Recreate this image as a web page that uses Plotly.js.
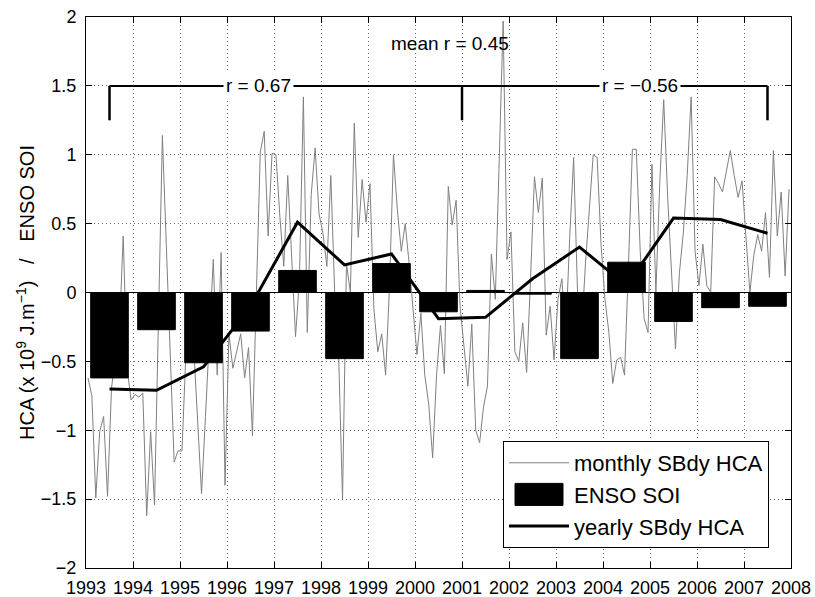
<!DOCTYPE html>
<html>
<head>
<meta charset="utf-8">
<script src="https://cdn.plot.ly/plotly-3.0.1.min.js"></script>
<style>html,body{margin:0;padding:0;background:#fff;}#chart{width:815px;height:597px;}</style>
</head>
<body>
<div id="chart"></div>
<script>
// ---- data ----
var startYear = 1993;
var yearTicks = [1993,1994,1995,1996,1997,1998,1999,2000,2001,2002,2003,2004,2005,2006,2007,2008];
var yTickVals = [-2,-1.5,-1,-0.5,0,0.5,1,1.5,2];
var yTickText = ['\u22122','\u22121.5','\u22121','\u22120.5','0','0.5','1','1.5','2'];

// monthly SBdy HCA (Jan..Dec, 1993..2007)
var monthlyHCA = [
  -0.62,-0.75,-1.49,-1.01,-0.90,-1.48,-0.70,-0.45,-0.30, 0.41,-0.55,-0.78, // 1993
  -0.74,-0.76,-0.73,-1.62,-1.01,-1.54,-0.20, 1.14, 0.35,-0.45,-1.23,-1.15, // 1994
  -1.15,-0.45,-0.25,-0.40,-0.90,-1.46,-0.90,-0.30, 0.24,-0.60, 0.29,-1.40, // 1995
  -0.30,-0.55,-0.42,-0.30,-0.62,-0.40,-1.04, 0.00, 1.02, 1.17, 0.41, 1.01, // 1996
   1.00, 0.55, 0.19, 0.85, 0.30,-0.32, 0.10, 1.42,-0.29, 0.71, 1.05, 0.57, // 1997
   0.43, 0.19, 0.85, 0.00,-0.45,-1.50, 0.21, 0.00, 1.23, 0.40, 0.82, 0.51, // 1998
   0.79,-0.12,-0.43,-0.30,-0.60, 0.05, 1.00, 0.60, 0.30, 0.50, 0.21,-0.10, // 1999
  -0.45,-0.15,-0.60,-0.81,-1.20,-0.60,-0.24,-0.59, 0.77, 0.49, 0.67,-0.10, // 2000
  -0.41,-0.68,-0.23,-1.00,-1.09,-0.83,-0.68, 0.28,-0.05, 0.90, 1.97, 0.24, // 2001
   0.44,-0.43,-0.50,-0.22,-0.58, 0.10, 0.84, 0.58, 0.83,-0.31,-0.10,-0.49, // 2002
  -0.05, 0.10,-0.30, 0.40, 0.98, 0.00,-0.30, 0.20, 0.60, 1.00, 0.98, 0.35, // 2003
  -0.05,-0.29,-0.66,-0.49,-0.47,-0.60, 0.20, 1.04, 1.04, 0.30,-0.19,-0.29, // 2004
   0.93, 0.00, 0.80, 1.40, 0.70, 0.10,-0.41, 0.14, 0.43, 0.85, 1.42, 0.30, // 2005
   0.05, 0.35, 0.05, 0.00, 0.84, 0.79, 0.73, 0.88, 1.03, 0.85, 0.69, 0.81, // 2006
   0.43, 0.00, 0.27, 0.42, 0.30, 0.58, 0.11, 1.03, 0.41, 0.73, 0.12, 0.75  // 2007
];
var years = [1993,1994,1995,1996,1997,1998,1999,2000,2001,2002,2003,2004,2005,2006,2007];
var ensoSOI   = [-0.62,-0.27,-0.51,-0.28,0.16,-0.48,0.21,-0.14,0.015,-0.012,-0.48,0.22,-0.21,-0.11,-0.10];
var yearlyHCA = [-0.70,-0.71,-0.54,-0.10,0.51,0.20,0.28,-0.19,-0.18,0.10,0.33,0.05,0.54,0.53,0.43];

var bracketYears = [1993.5, 2001.0, 2007.5];
var bracketTop = 1.5, bracketBottom = 1.25;
var labels = [
  {text:'r = 0.67', x:1996.67, y:1.5},
  {text:'r = \u22120.56', x:2004.79, y:1.5},
  {text:'mean r = 0.45', x:2000.74, y:1.81}
];

// ---- derived ----
var monthTimes = monthlyHCA.map(function(_, i){ return startYear + (i + 0.5) / 12; });
var midYears = years.map(function(y){ return y + 0.5; });

var FONT = 'Liberation Sans, Arial, Helvetica, sans-serif';
var NB = '\u00a0\u00a0\u00a0';

var traces = [
  {type:'scatter', mode:'lines', x:monthTimes, y:monthlyHCA, name:'monthly SBdy HCA',
   line:{color:'#808080', width:1}, xaxis:'x', yaxis:'y'},
  {type:'bar', x:midYears, y:ensoSOI, width:0.8, name:'ENSO SOI',
   marker:{color:'#000', line:{color:'#000', width:1}}, xaxis:'x2', yaxis:'y2'},
  {type:'scatter', mode:'lines', x:midYears, y:yearlyHCA, name:'yearly SBdy HCA',
   line:{color:'#000', width:3}, xaxis:'x', yaxis:'y'}
];

var shapes = [{type:'line', xref:'x', yref:'y', x0:bracketYears[0], x1:bracketYears[2],
               y0:bracketTop, y1:bracketTop, line:{color:'#000', width:2}}];
bracketYears.forEach(function(b){
  shapes.push({type:'line', xref:'x', yref:'y', x0:b, x1:b, y0:bracketTop, y1:bracketBottom,
               line:{color:'#000', width:2.5}});
});

var annotations = labels.map(function(l){
  return {text:l.text, x:l.x, y:l.y, xref:'x', yref:'y', showarrow:false,
          bgcolor: l.y === bracketTop ? '#fff' : 'rgba(0,0,0,0)', borderpad:2,
          font:{family:FONT, size:19, color:'#000'}};
});

var axCommon = {
  ticks:'inside', ticklen:6, tickcolor:'#000', tickwidth:1,
  showline:true, linecolor:'#000', linewidth:1, mirror:'ticks',
  showgrid:true, gridcolor:'#6e6e6e', gridwidth:1, griddash:'1px,3px',
  zeroline:false,
  tickfont:{family:FONT, size:18, color:'#000'}
};

var layout = {
  width:815, height:597,
  margin:{l:86, r:24, t:17, b:29},
  paper_bgcolor:'#fff', plot_bgcolor:'#fff',
  showlegend:true,
  barmode:'overlay',
  xaxis: Object.assign({}, axCommon, {range:[1993,2008], tickvals:yearTicks,
          ticktext:yearTicks.map(String), ticklabelstandoff:3}),
  yaxis: Object.assign({}, axCommon, {range:[-2,2], tickvals:yTickVals, ticktext:yTickText,
          zeroline:true, zerolinecolor:'#000', zerolinewidth:1, ticklabelstandoff:5,
          title:{text:'HCA (x 10<sup>9</sup> J.m<sup>\u22121</sup>)' + NB + '/' + NB + 'ENSO SOI',
                 font:{family:FONT, size:20, color:'#000'}, standoff:0}}),
  xaxis2:{overlaying:'x', range:[1993,2008], visible:false, anchor:'y2'},
  yaxis2:{overlaying:'y', range:[-2,2], visible:false, anchor:'x2'},
  legend:{x:0.5915, y:0.2305, xanchor:'left', yanchor:'top',
          bgcolor:'#fff', bordercolor:'#000', borderwidth:1,
          font:{family:FONT, size:22, color:'#000'}, itemwidth:60, tracegroupgap:0},
  shapes:shapes,
  annotations:annotations
};

function widenBarSymbol(gd){
  var groups = gd.querySelectorAll('.legend .traces');
  groups.forEach(function(g){
    var t = g.querySelector('text');
    if (t && t.textContent.indexOf('ENSO') >= 0) {
      g.querySelectorAll('.legendpoints path').forEach(function(p){
        p.setAttribute('d','M24,11H-24V-11H24Z');
      });
    }
  });
}

Plotly.newPlot('chart', traces, layout, {staticPlot:true, displayModeBar:false}).then(function(gd){
  widenBarSymbol(gd);
  setTimeout(function(){ widenBarSymbol(gd); }, 50);
});
</script>
</body>
</html>
